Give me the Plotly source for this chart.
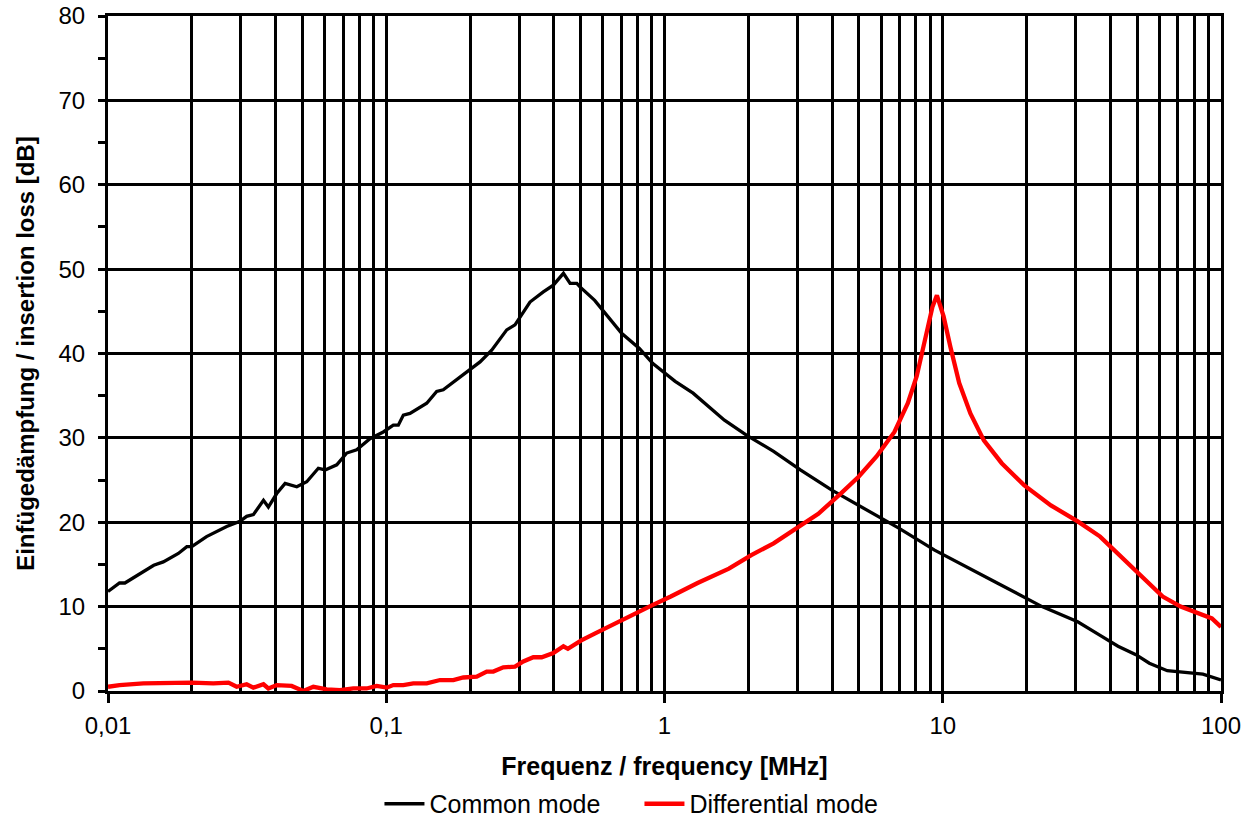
import plotly.graph_objects as go

# Frequency in MHz, insertion loss in dB
cm_freq = [0.0100, 0.0110, 0.0115, 0.0127, 0.0132, 0.0146, 0.0158, 0.0169, 0.0179, 0.0192,
           0.0200, 0.0226, 0.0267, 0.0298, 0.0315, 0.0333, 0.0362, 0.0377, 0.0404, 0.0433,
           0.0477, 0.0518, 0.0570, 0.0603, 0.0664, 0.0721, 0.0783, 0.0874, 0.0976, 0.1060,
           0.1105, 0.1152, 0.1217, 0.1398, 0.1518, 0.1603, 0.1695, 0.1841, 0.1946, 0.2173,
           0.2393, 0.2710, 0.2902, 0.3285, 0.3668, 0.3985, 0.4333, 0.4579, 0.4840, 0.4970,
           0.5612, 0.6270, 0.7013, 0.8124, 0.9085, 1.0925, 1.267, 1.642, 1.976, 2.467,
           3.078, 3.994, 5.172, 6.950, 9.348, 12.11, 15.69, 22.74, 30.55, 36.78,
           42.65, 49.46, 55.26, 64.09, 74.24, 86.09, 100.0]
cm_db = [11.8, 12.8, 12.8, 13.7, 14.0, 14.9, 15.3, 15.9, 16.3, 17.1,
         17.1, 18.3, 19.5, 20.1, 20.7, 20.9, 22.6, 21.8, 23.4, 24.6,
         24.2, 24.8, 26.4, 26.2, 26.8, 28.2, 28.6, 29.9, 30.7, 31.5,
         31.5, 32.7, 32.9, 34.1, 35.5, 35.7, 36.3, 37.3, 37.8, 39.0,
         40.4, 42.8, 43.4, 46.1, 47.3, 48.1, 49.5, 48.3, 48.3, 47.9,
         46.3, 44.4, 42.4, 40.6, 38.8, 36.7, 35.3, 32.1, 30.3, 28.4,
         26.2, 23.8, 21.7, 19.3, 16.7, 14.7, 12.8, 10.0, 8.2, 6.6,
         5.3, 4.3, 3.3, 2.4, 2.2, 2.0, 1.3]

dm_freq = [0.0100, 0.0110, 0.0134, 0.0163, 0.0200, 0.0239, 0.0271, 0.0290, 0.0315, 0.0333,
           0.0362, 0.0377, 0.0404, 0.0457, 0.0503, 0.0547, 0.0611, 0.0682, 0.0761, 0.0850,
           0.0924, 0.1004, 0.1060, 0.1152, 0.1251, 0.1398, 0.1560, 0.1742, 0.1892, 0.2114,
           0.2296, 0.2425, 0.2634, 0.2902, 0.3108, 0.3377, 0.3620, 0.3985, 0.4333, 0.4496,
           0.5023, 0.5612, 0.6270, 0.7272, 0.9085, 1.0534, 1.315, 1.704, 2.051, 2.467,
           2.969, 3.571, 4.298, 4.984, 5.781, 6.704, 7.489, 8.061, 8.685, 9.180,
           9.528, 10.07, 10.65, 11.46, 12.57, 14.05, 16.29, 19.59, 24.47, 30.55,
           36.78, 44.26, 53.24, 61.74, 71.58, 83.00, 92.75, 100.0]
dm_db = [0.5, 0.7, 0.9, 1.0, 1.0, 0.9, 1.0, 0.5, 0.8, 0.4,
         0.8, 0.3, 0.7, 0.6, 0.0, 0.5, 0.2, 0.1, 0.3, 0.3,
         0.6, 0.4, 0.7, 0.7, 0.9, 0.9, 1.3, 1.3, 1.6, 1.7,
         2.3, 2.3, 2.8, 2.9, 3.5, 4.0, 4.0, 4.5, 5.3, 5.0,
         6.0, 6.8, 7.6, 8.6, 10.2, 11.2, 12.8, 14.5, 16.1, 17.5,
         19.3, 21.0, 23.4, 25.4, 27.8, 30.7, 34.1, 37.3, 42.0, 45.5,
         46.9, 44.4, 40.8, 36.5, 32.9, 29.7, 27.0, 24.4, 22.0, 20.1,
         18.3, 15.7, 13.2, 11.2, 10.0, 9.2, 8.6, 7.6]

x_major = [0.01, 0.1, 1, 10, 100]
x_major_text = ["0,01", "0,1", "1", "10", "100"]
x_minor = [m * d for d in [0.01, 0.1, 1, 10] for m in range(2, 10)]
y_ticks = [0, 10, 20, 30, 40, 50, 60, 70, 80]

FONT = "Liberation Sans, Arial, sans-serif"

fig = go.Figure()
fig.add_trace(go.Scatter(x=cm_freq, y=cm_db, mode="lines", name="Common mode",
                         line=dict(color="black", width=3.3)))
fig.add_trace(go.Scatter(x=dm_freq, y=dm_db, mode="lines", name="Differential mode",
                         line=dict(color="#ff0000", width=4.3)))

fig.update_layout(
    width=1249, height=818,
    margin=dict(l=108, r=28, t=16, b=127, autoexpand=False),
    plot_bgcolor="white", paper_bgcolor="white",
    font=dict(family=FONT, size=24, color="black"),
    showlegend=True,
    legend=dict(orientation="h", x=0.4775, xanchor="center", y=-0.1674, yanchor="middle",
                font=dict(size=25), itemwidth=40, entrywidth=205, tracegroupgap=0,
                bgcolor="rgba(0,0,0,0)"),
    xaxis=dict(
        type="log", range=[-2, 2],
        tickvals=x_major, ticktext=x_major_text,
        ticks="outside", ticklen=9, tickwidth=3, tickcolor="black",
        ticklabelstandoff=2,
        showgrid=True, gridcolor="black", gridwidth=3,
        minor=dict(tickvals=x_minor, showgrid=True, gridcolor="black", gridwidth=3, ticks=""),
        showline=True, linecolor="black", linewidth=3, mirror=True,
        zeroline=False,
        tickfont=dict(size=24),
        title=dict(text="<b>Frequenz / frequency [MHz]</b>", font=dict(size=25), standoff=20),
    ),
    yaxis=dict(
        range=[0, 80], tickvals=y_ticks,
        ticks="outside", ticklen=7, tickwidth=3, tickcolor="black",
        ticklabelstandoff=8,
        showgrid=True, gridcolor="black", gridwidth=3,
        minor=dict(dtick=5, ticks="outside", ticklen=7, tickwidth=3, tickcolor="black", showgrid=False),
        showline=True, linecolor="black", linewidth=3, mirror=True,
        zeroline=False,
        tickfont=dict(size=24),
        title=dict(text="<b>Einfügedämpfung / insertion loss [dB]</b>", font=dict(size=24), standoff=18),
    ),
)

fig.write_html("out.html", config={"displayModeBar": False},
               post_script="document.body.style.margin='0';document.body.style.overflow='hidden';")
